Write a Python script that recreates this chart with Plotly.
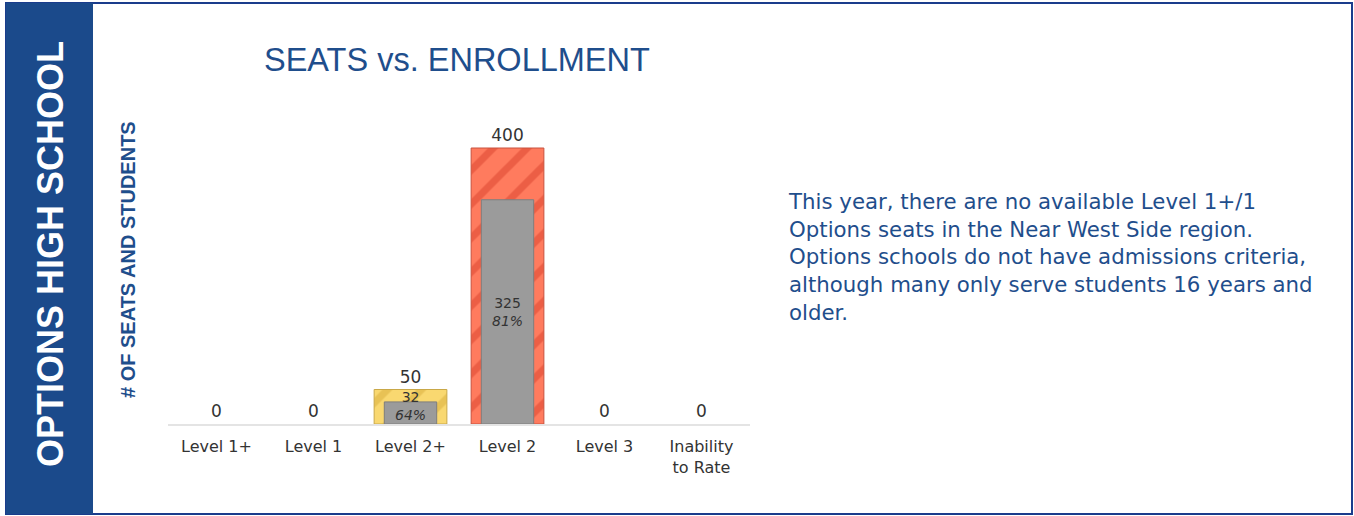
import plotly.graph_objects as go

# ---- data ----
categories = ["Level 1+", "Level 1", "Level 2+", "Level 2", "Level 3", "Inability<br>to Rate"]
seats = [0, 0, 50, 400, 0, 0]
enrolled = [0, 0, 32, 325, 0, 0]
seat_colors = ["#7FB77E", "#A9D18E", "#F9D870", "#FF7B5E", "#8FB3DE", "#BFBFBF"]
stripe_colors = ["#6FA76E", "#99C17E", "#E8C255", "#EC5E45", "#7FA3CE", "#AFAFAF"]
border_colors = ["#5F975E", "#89B16E", "#C9A848", "#C8523E", "#6F93BE", "#9F9F9F"]
note_lines = [
    "This year, there are no available Level 1+/1",
    "Options seats in the Near West Side region.",
    "Options schools do not have admissions criteria,",
    "although many only serve students 16 years and",
    "older.",
]

W, H = 1354, 516
NAVY = "#1B4A8B"
TXT = "#1F4E8C"

def px(x):
    return x / W

def py(y):
    return 1 - y / H

fig = go.Figure()

# seats: one trace per category so each bar gets its own striped fill
for c, s, col, stripe, border in zip(categories, seats, seat_colors, stripe_colors, border_colors):
    fig.add_trace(go.Bar(
        x=[c], y=[s], width=0.75,
        marker=dict(
            color=col,
            line=dict(color=border, width=1 if s > 0 else 0),
            pattern=dict(shape="/", bgcolor=col, fgcolor=stripe, fgopacity=1,
                         size=24, solidity=0.3, fillmode="overlay"),
        ),
        text=[str(s)], textposition="outside",
        textfont=dict(family="DejaVu Sans", size=17, color="#333333"),
        cliponaxis=False, hoverinfo="skip",
    ))

fig.add_trace(go.Bar(
    x=categories, y=enrolled, width=0.54,
    marker=dict(color="#9B9B9B",
                line=dict(color="#7E7E7E", width=[1 if e > 0 else 0 for e in enrolled])),
    hoverinfo="skip",
))

# inner labels (count + share of seats)
for c, s, e in zip(categories, seats, enrolled):
    if s > 0 and e > 0:
        pct = round(100 * e / s)
        fig.add_annotation(
            x=c, y=e / 2, xref="x", yref="y",
            text=f"{e}<br><i>{pct}%</i>", showarrow=False,
            yshift=7 if e < 60 else 0,
            font=dict(family="DejaVu Sans", size=14, color="#333333"),
        )

fig.update_layout(
    width=W, height=H,
    margin=dict(l=0, r=0, t=0, b=0),
    paper_bgcolor="white", plot_bgcolor="white",
    barmode="overlay", showlegend=False,
    xaxis=dict(domain=[px(168), px(750)], showline=True, linecolor="#E4E4E4",
               linewidth=2, ticks="", showgrid=False, zeroline=False,
               ticklabelstandoff=7,
               tickfont=dict(family="DejaVu Sans", size=16, color="#333333"),
               fixedrange=True),
    yaxis=dict(domain=[py(424), py(100)], range=[0, 324 / 0.69],
               showticklabels=False, showgrid=False, zeroline=False,
               showline=False, fixedrange=True),
    shapes=[
        dict(type="rect", xref="paper", yref="paper", x0=px(6), x1=px(1352),
             y0=py(514), y1=py(3), line=dict(color="#1A3C8C", width=2),
             fillcolor="rgba(0,0,0,0)", layer="below"),
        dict(type="rect", xref="paper", yref="paper", x0=px(6), x1=px(93),
             y0=py(514), y1=py(3), line=dict(width=0), fillcolor=NAVY,
             layer="below"),
    ],
)

# band title
fig.add_annotation(
    x=px(50), y=py(254), xref="paper", yref="paper", showarrow=False,
    xanchor="center", yanchor="middle",
    text="OPTIONS HIGH SCHOOL", textangle=-90,
    font=dict(family="Liberation Sans, Arial", size=36, color="white", weight="bold"),
)
# chart title
fig.add_annotation(
    x=px(457), y=py(60), xref="paper", yref="paper", showarrow=False,
    xanchor="center", yanchor="middle",
    text="SEATS vs. ENROLLMENT",
    font=dict(family="Liberation Sans, Arial", size=32.5, color=TXT),
)
# y-axis title
fig.add_annotation(
    x=px(128), y=py(260), xref="paper", yref="paper", showarrow=False,
    xanchor="center", yanchor="middle",
    text="# OF SEATS AND STUDENTS", textangle=-90,
    font=dict(family="Liberation Sans, Arial", size=20, color=TXT, weight="bold"),
)
# note text
fig.add_annotation(
    x=px(786), y=py(257), xref="paper", yref="paper",
    xanchor="left", yanchor="middle", align="left", showarrow=False,
    text="<br>".join(note_lines),
    font=dict(family="DejaVu Sans", size=21.3, color=TXT),
)

fig.write_html("out.html", config={"displayModeBar": False},
               post_script="document.body.style.margin='0px';document.body.style.padding='0px';")
